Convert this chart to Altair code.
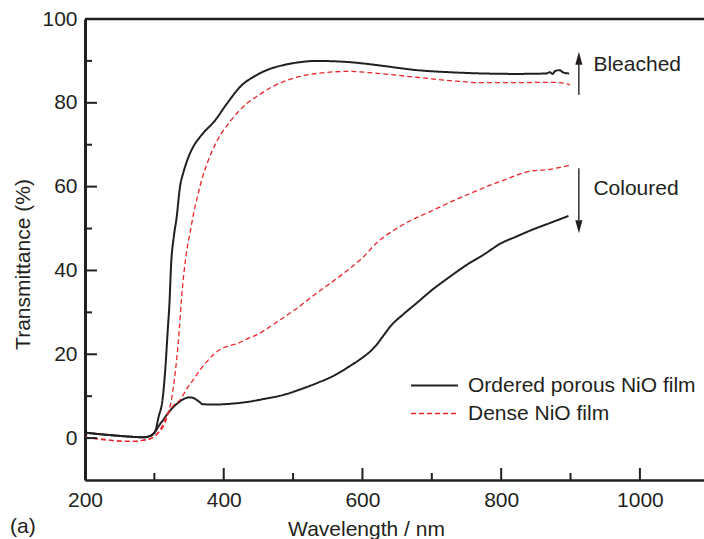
import altair as alt
import pandas as pd

# ---------------- data ----------------
ordered_bleached_nm = [200, 230, 260, 285, 295, 301, 306, 312, 316, 319, 322, 324, 328, 332, 337, 342,
                       346, 351, 356, 368, 388, 405, 426, 443, 462, 486, 510, 534, 560, 582, 630, 678,
                       726, 774, 822, 865, 870, 874, 878, 884, 890, 898]
ordered_bleached_T = [1.3, 0.8, 0.4, 0.2, 0.6, 1.5, 5.0, 9.5, 17, 25, 33, 41, 48, 52.5, 60, 63.5,
                      65.6, 67.8, 69.5, 72.3, 75.9, 79.9, 84.2, 86.2, 87.8, 89.0, 89.7, 90.0, 89.9, 89.7, 88.8, 87.8,
                      87.3, 87.0, 86.9, 87.0, 87.3, 86.9, 87.6, 87.8, 87.2, 87.0]

ordered_coloured_nm = [200, 230, 260, 285, 295, 301, 306, 313, 320, 328, 335, 342, 350, 356, 361, 366,
                       369, 385, 410, 433, 460, 486, 510, 534, 560, 582, 600, 610, 620, 630, 640, 660, 678,
                       700, 726, 750, 774, 800, 822, 846, 870, 897]
ordered_coloured_T = [1.3, 0.8, 0.4, 0.2, 0.6, 1.5, 2.8, 4.4, 6.0, 7.5, 8.5, 9.3, 9.7, 9.6, 9.1, 8.5,
                      8.1, 8.0, 8.2, 8.6, 9.4, 10.3, 11.6, 13.1, 15.0, 17.2, 19.2, 20.5, 22.2, 24.4, 26.6, 29.7, 32.2,
                      35.3, 38.5, 41.3, 43.7, 46.5, 48.1, 49.8, 51.3, 53.0]

dense_bleached_nm = [200, 230, 265, 285, 296, 302, 309, 315, 320, 325, 328, 331, 334, 336, 339, 343,
                     347, 352, 357, 362, 368, 376, 390, 409, 433, 450, 472, 490, 510, 534, 560, 582,
                     610, 630, 678, 726, 774, 822, 870, 885, 899]
dense_bleached_T = [0.2, -0.4, -0.8, -0.5, 0.0, 0.7, 1.8, 3.5, 6.0, 9.5, 13, 17, 22, 26, 33, 40,
                    45, 49.5, 54, 57.5, 61.5, 65.5, 70.8, 75.5, 79.8, 81.8, 84.0, 85.3, 86.3, 87.0, 87.4, 87.5,
                    87.2, 86.9, 86.1, 85.3, 84.8, 84.8, 84.9, 84.8, 84.3]

dense_coloured_nm = [200, 230, 265, 285, 296, 302, 310, 318, 327, 337, 347, 356, 366, 376, 385, 395,
                     407, 419, 433, 448, 465, 481, 500, 534, 560, 582, 600, 620, 654, 702, 750, 798,
                     846, 870, 885, 901]
dense_coloured_T = [0.2, -0.4, -0.8, -0.5, 0.0, 0.7, 2.5, 5.5, 7.7, 9.1, 11.8, 13.9, 16.3, 18.3, 19.9, 21.2,
                    22.0, 22.5, 23.6, 24.7, 26.4, 28.2, 30.3, 34.6, 37.7, 40.5, 43.0, 46.5, 50.5, 54.4, 58.0, 61.2,
                    63.8, 64.1, 64.6, 65.2]

series_names = ["Ordered porous NiO film", "Dense NiO film"]
x_label_values = [200, 400, 600, 800, 1000]
x_major_ticks = [400, 600, 800, 1000]
x_minor_ticks = [300, 500, 700, 900]
y_label_values = [0, 20, 40, 60, 80, 100]
y_major_ticks = [0, 20, 40, 60, 80]
y_minor_ticks = [10, 30, 50, 70, 90]

arrow_nm = [912, 912]
arrow_start_T = [81.9, 64.4]
arrow_end_T = [89.2, 52.0]
arrow_tip_T = [92.2, 48.9]
arrow_dir = ["up", "down"]
note_nm = [933, 933]
note_T = [87.6, 58.0]
note_text = ["Bleached", "Coloured"]

# ---------------- build table ----------------
rows = []
for series, curve, xs, ys in [
    (series_names[0], "ordered_bleached", ordered_bleached_nm, ordered_bleached_T),
    (series_names[0], "ordered_coloured", ordered_coloured_nm, ordered_coloured_T),
    (series_names[1], "dense_bleached", dense_bleached_nm, dense_bleached_T),
    (series_names[1], "dense_coloured", dense_coloured_nm, dense_coloured_T),
]:
    for x, y in zip(xs, ys):
        rows.append({"series": series, "curve": curve, "nm": x, "T": y})
df = pd.DataFrame(rows)

W, H = 619, 461
X0, X1 = 200, 1092.4
Y0, Y1 = -10, 100
INK = "#231f20"
RED = "#e8262b"
FONT = "Liberation Sans"
FS = 21
MAJOR_PX, MINOR_PX = 12, 7

px_per_nm = W / (X1 - X0)
px_per_T = H / (Y1 - Y0)

xscale = alt.Scale(domain=[X0, X1], nice=False, zero=False)
yscale = alt.Scale(domain=[Y0, Y1], nice=False, zero=False)

legend = alt.Legend(
    title=None, orient="none", legendX=339, legendY=356,
    symbolType="M-3,0L3,0", symbolSize=245, symbolStrokeWidth=1.8,
    labelFontSize=FS, labelFont=FONT, labelColor=INK, labelOffset=23,
    rowPadding=6, labelLimit=400,
)

lines = alt.Chart(df).mark_line(interpolate="monotone").encode(
    x=alt.X("nm:Q", scale=xscale, axis=alt.Axis(
        values=x_label_values, format="d", ticks=False, tickSize=0, grid=False, labelFlush=False,
        domainWidth=2.5, domainColor=INK, labelFontSize=FS, labelFont=FONT, labelColor=INK,
        labelPadding=9, title="Wavelength / nm", titleFont=FONT, titleFontSize=FS,
        titleFontWeight="normal", titleColor=INK, titleX=281, titleY=55,
        titleBaseline="alphabetic", titleAlign="center")),
    y=alt.Y("T:Q", scale=yscale, axis=alt.Axis(
        values=y_label_values, format="d", ticks=False, tickSize=0, grid=False, labelFlush=False,
        domainWidth=3, domainColor=INK, labelFontSize=FS, labelFont=FONT, labelColor=INK,
        labelPadding=8, title="Transmittance (%)", titleFont=FONT, titleFontSize=FS,
        titleFontWeight="normal", titleColor=INK, titleX=-56, titleY=245,
        titleBaseline="alphabetic", titleAlign="center", titleAngle=270)),
    color=alt.Color("series:N", scale=alt.Scale(domain=series_names, range=[INK, RED]), legend=legend),
    strokeDash=alt.StrokeDash("series:N", scale=alt.Scale(domain=series_names, range=[[1, 0], [5, 3]]), legend=legend),
    strokeWidth=alt.StrokeWidth("series:N", scale=alt.Scale(domain=series_names, range=[2.0, 1.3]), legend=None),
    detail="curve:N",
)

x_tick_df = pd.DataFrame({
    "tx": x_major_ticks + x_minor_ticks,
    "ty0": [Y0] * (len(x_major_ticks) + len(x_minor_ticks)),
    "ty1": [Y0 + MAJOR_PX / px_per_T] * len(x_major_ticks) + [Y0 + MINOR_PX / px_per_T] * len(x_minor_ticks),
})
y_tick_df = pd.DataFrame({
    "sy": y_major_ticks + y_minor_ticks,
    "sx0": [X0] * (len(y_major_ticks) + len(y_minor_ticks)),
    "sx1": [X0 + MAJOR_PX / px_per_nm] * len(y_major_ticks) + [X0 + MINOR_PX / px_per_nm] * len(y_minor_ticks),
})
x_ticks = alt.Chart(x_tick_df).mark_rule(color=INK, strokeWidth=2).encode(
    x=alt.X("tx:Q", scale=xscale), y=alt.Y("ty0:Q", scale=yscale), y2="ty1:Q")
y_ticks = alt.Chart(y_tick_df).mark_rule(color=INK, strokeWidth=2).encode(
    y=alt.Y("sy:Q", scale=yscale), x=alt.X("sx0:Q", scale=xscale), x2="sx1:Q")

top_frame = alt.Chart(pd.DataFrame({"fy": [Y1], "fx0": [X0], "fx1": [X1]})).mark_rule(
    color=INK, strokeWidth=2.5).encode(
    y=alt.Y("fy:Q", scale=yscale), x=alt.X("fx0:Q", scale=xscale), x2="fx1:Q")

arr_df = pd.DataFrame({"nm": arrow_nm, "T0": arrow_start_T, "T1": arrow_end_T,
                       "Ttip": arrow_tip_T, "dir": arrow_dir})
arrow_shafts = alt.Chart(arr_df).mark_rule(color=INK, strokeWidth=1.4).encode(
    x=alt.X("nm:Q", scale=xscale), y=alt.Y("T0:Q", scale=yscale), y2="T1:Q")
head_up = alt.Chart(arr_df[arr_df["dir"] == "up"]).mark_point(
    shape="M0,0L0.55,2L-0.55,2Z", size=169, filled=True, color=INK, opacity=1).encode(
    x=alt.X("nm:Q", scale=xscale), y=alt.Y("Ttip:Q", scale=yscale))
head_down = alt.Chart(arr_df[arr_df["dir"] == "down"]).mark_point(
    shape="M0,0L0.55,-2L-0.55,-2Z", size=169, filled=True, color=INK, opacity=1).encode(
    x=alt.X("nm:Q", scale=xscale), y=alt.Y("Ttip:Q", scale=yscale))

notes = alt.Chart(pd.DataFrame({"nm": note_nm, "T": note_T, "t": note_text})).mark_text(
    align="left", baseline="alphabetic", fontSize=FS, font=FONT, color=INK).encode(
    x=alt.X("nm:Q", scale=xscale), y=alt.Y("T:Q", scale=yscale), text="t:N")

panel = alt.Chart(pd.DataFrame({"t": ["(a)"]})).mark_text(
    align="left", baseline="alphabetic", fontSize=FS, font=FONT, color=INK).encode(
    x=alt.value(-75), y=alt.value(514), text="t:N")

chart = alt.layer(
    lines, top_frame, x_ticks, y_ticks,
    arrow_shafts, head_up, head_down, notes, panel
).properties(
    width=W, height=H,
    autosize=alt.AutoSizeParams(type="none"),
    padding={"left": 85, "top": 19, "right": 0, "bottom": 59},
    background="white",
).configure_view(stroke="transparent")

chart.save("out.html", embed_options={"renderer": "svg", "actions": False})
